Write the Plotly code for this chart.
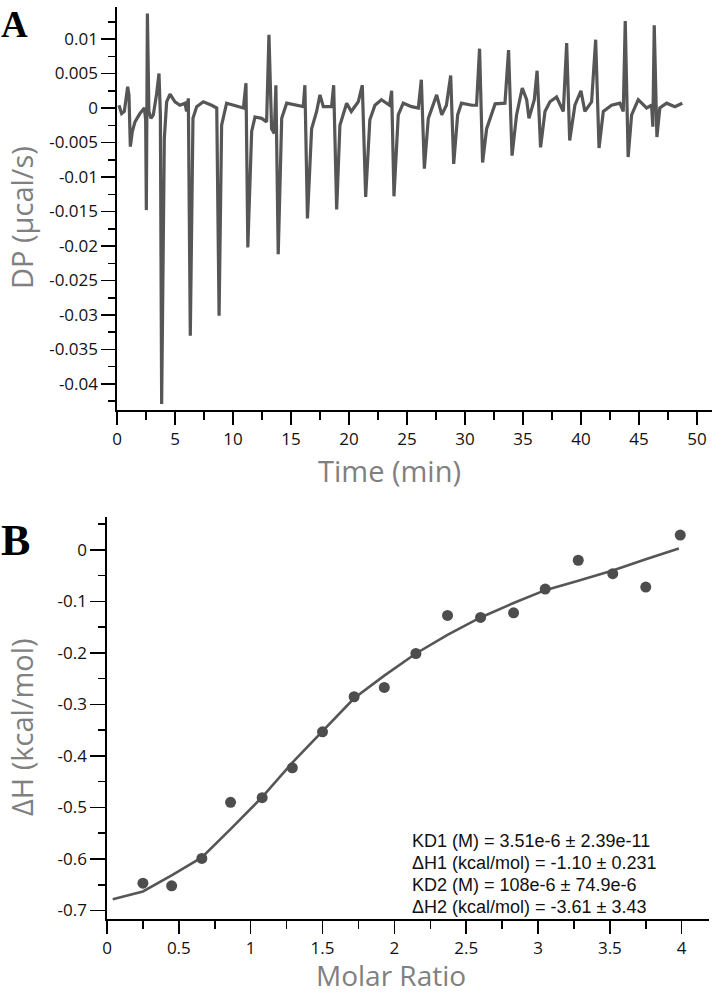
import plotly.graph_objects as go

# ---------------- Panel A: raw thermogram (DP vs time) ----------------
dp_time = [0.17, 0.40, 0.63, 0.92, 1.03, 1.15, 1.32, 1.55, 1.98, 2.36, 2.47, 2.53, 2.62, 2.75, 2.93,
           3.13, 3.42, 3.62, 3.74, 3.85, 4.08, 4.28, 4.57, 5.00, 5.43, 5.86, 6.00, 6.15, 6.32, 6.55,
           6.87, 7.44, 8.16, 8.60, 8.80, 9.02, 9.45, 10.17, 10.90, 11.12, 11.28, 11.61, 11.90, 12.47,
           12.90, 13.10, 13.33, 13.56, 13.70, 13.90, 14.20, 14.63, 15.34, 16.06, 16.20, 16.42, 16.78,
           17.21, 17.50, 17.79, 18.50, 18.68, 18.94, 19.22, 19.80, 20.20, 20.80, 21.15, 21.44, 21.80,
           22.24, 22.80, 23.50, 23.68, 23.88, 24.25, 24.68, 25.40, 25.98, 26.24, 26.50, 26.84, 27.56,
           28.00, 28.40, 28.77, 29.03, 29.37, 29.70, 30.60, 31.00, 31.26, 31.52, 31.87, 32.60, 33.45,
           33.76, 34.06, 34.45, 34.94, 35.32, 35.52, 35.98, 36.22, 36.52, 36.90, 37.33, 37.90, 38.48,
           38.77, 39.03, 39.48, 40.00, 40.34, 40.92, 41.27, 41.56, 41.93, 42.64, 43.36, 43.65, 43.82,
           44.07, 44.37, 44.94, 45.66, 46.09, 46.20, 46.32, 46.55, 46.80, 47.39, 48.10, 48.74]
dp_value = [0.0004, -0.0008, -0.0005, 0.0031, 0.0019, -0.0056, -0.0034, -0.0020, -0.0008, 0.0000,
            -0.0017, -0.0148, 0.0137, -0.0005, -0.0015, -0.0010, 0.0021, 0.0050, -0.0010, -0.0429,
            -0.0044, 0.0009, 0.0020, 0.0009, 0.0004, 0.0007, -0.0005, 0.0014, -0.0330, -0.0015,
            0.0002, 0.0009, 0.0004, 0.0000, -0.0301, -0.0025, 0.0007, 0.0004, 0.0000, 0.0036,
            -0.0202, -0.0034, -0.0013, -0.0015, -0.0020, 0.0106, -0.0030, -0.0037, 0.0033, -0.0212,
            -0.0015, 0.0007, 0.0004, 0.0002, 0.0033, -0.0160, -0.0030, -0.0005, 0.0019, 0.0002,
            0.0002, 0.0033, -0.0147, -0.0025, 0.0007, -0.0005, 0.0009, 0.0033, -0.0129, -0.0017,
            0.0004, 0.0012, 0.0004, 0.0025, -0.0128, -0.0010, 0.0007, 0.0002, 0.0000, 0.0041,
            -0.0088, -0.0015, 0.0019, -0.0010, 0.0004, 0.0047, -0.0081, -0.0010, 0.0007, 0.0004,
            0.0004, 0.0086, -0.0079, -0.0030, 0.0006, 0.0007, 0.0084, -0.0069, -0.0010, 0.0029,
            0.0012, -0.0015, 0.0012, 0.0054, -0.0057, -0.0005, 0.0009, 0.0016, -0.0005, 0.0094,
            -0.0047, 0.0004, 0.0025, -0.0005, 0.0009, 0.0099, -0.0058, -0.0005, 0.0004, 0.0007,
            -0.0005, 0.0126, -0.0071, -0.0010, 0.0012, 0.0000, 0.0004, -0.0027, 0.0120, -0.0042,
            0.0000, 0.0007, 0.0002, 0.0007]

time_ticks = [0, 5, 10, 15, 20, 25, 30, 35, 40, 45, 50]
time_ticktext = ["0", "5", "10", "15", "20", "25", "30", "35", "40", "45", "50"]
time_minor = [2.5, 7.5, 12.5, 17.5, 22.5, 27.5, 32.5, 37.5, 42.5, 47.5]
dp_ticks = [0.01, 0.005, 0, -0.005, -0.01, -0.015, -0.02, -0.025, -0.03, -0.035, -0.04]
dp_ticktext = ["0.01", "0.005", "0", "-0.005", "-0.01", "-0.015", "-0.02", "-0.025", "-0.03", "-0.035", "-0.04"]
dp_minor = [0.0125, 0.0075, 0.0025, -0.0025, -0.0075, -0.0125, -0.0175, -0.0225, -0.0275,
            -0.0325, -0.0375, -0.0425]

# ---------------- Panel B: integrated heats ----------------
molar_ratio = [0.25, 0.45, 0.66, 0.86, 1.08, 1.29, 1.50, 1.72, 1.93, 2.15, 2.37, 2.60, 2.83,
               3.05, 3.28, 3.52, 3.75, 3.99]
delta_h = [-0.647, -0.652, -0.599, -0.490, -0.481, -0.423, -0.353, -0.285, -0.267, -0.201,
           -0.127, -0.131, -0.122, -0.076, -0.020, -0.046, -0.072, 0.029]
fit_x = [0.04, 0.25, 0.45, 0.66, 0.86, 1.08, 1.29, 1.50, 1.72, 1.93, 2.15, 2.37, 2.60, 2.83,
         3.05, 3.28, 3.52, 3.75, 3.98]
fit_y = [-0.678, -0.663, -0.632, -0.597, -0.542, -0.480, -0.413, -0.352, -0.288, -0.244,
         -0.201, -0.165, -0.131, -0.103, -0.078, -0.060, -0.040, -0.018, 0.003]

mr_ticks = [0, 0.5, 1, 1.5, 2, 2.5, 3, 3.5, 4]
mr_ticktext = ["0", "0.5", "1", "1.5", "2", "2.5", "3", "3.5", "4"]
mr_minor = [0.25, 0.75, 1.25, 1.75, 2.25, 2.75, 3.25, 3.75]
dh_ticks = [0, -0.1, -0.2, -0.3, -0.4, -0.5, -0.6, -0.7]
dh_ticktext = ["0", "-0.1", "-0.2", "-0.3", "-0.4", "-0.5", "-0.6", "-0.7"]
dh_minor = [0.05, -0.05, -0.15, -0.25, -0.35, -0.45, -0.55, -0.65]

fit_params = ["KD1 (M) = 3.51e-6 ± 2.39e-11",
              "ΔH1 (kcal/mol) = -1.10 ± 0.231",
              "KD2 (M) = 108e-6 ± 74.9e-6",
              "ΔH2 (kcal/mol) = -3.61 ± 3.43"]

# ---------------- figure ----------------
W, H = 712, 994
TRACE = "#565656"
TICKFONT = dict(family="Open Sans", size=17, color="#111111")
TITLEFONT = dict(family="Open Sans", size=29, color="#808080")

fig = go.Figure()
fig.add_trace(go.Scatter(x=dp_time, y=dp_value, mode="lines",
                         line=dict(color=TRACE, width=3.2), xaxis="x", yaxis="y",
                         showlegend=False, hoverinfo="skip"))
fig.add_trace(go.Scatter(x=fit_x, y=fit_y, mode="lines",
                         line=dict(color=TRACE, width=2.6), xaxis="x2", yaxis="y2",
                         showlegend=False))
fig.add_trace(go.Scatter(x=molar_ratio, y=delta_h, mode="markers",
                         marker=dict(color="#4d4d4d", size=11), xaxis="x2", yaxis="y2",
                         showlegend=False))


def px_x(p):
    return p / W


def px_y(p):
    return 1 - p / H


axis_common = dict(showline=True, linecolor="black", linewidth=1.6, ticks="outside",
                   tickcolor="black", tickwidth=1.5, showgrid=False, zeroline=False,
                   automargin=False, tickmode="array", tickfont=TICKFONT, fixedrange=True)

fig.update_layout(
    template="none",
    width=W, height=H, margin=dict(l=0, r=0, t=0, b=0, autoexpand=False),
    paper_bgcolor="white", plot_bgcolor="white", showlegend=False,
    xaxis=dict(axis_common, domain=[px_x(117), 1.0], range=[0, 51.3], anchor="y",
               tickvals=time_ticks, ticktext=time_ticktext, ticklen=13,
               minor=dict(tickvals=time_minor, ticklen=8, ticks="outside",
                          tickcolor="black", tickwidth=1.5)),
    yaxis=dict(axis_common, domain=[px_y(410), px_y(7)], range=[-0.04377, 0.01464], anchor="x",
               tickvals=dp_ticks, ticktext=dp_ticktext, ticklen=14,
               minor=dict(tickvals=dp_minor, ticklen=7, ticks="outside",
                          tickcolor="black", tickwidth=1.5)),
    xaxis2=dict(axis_common, domain=[px_x(107), px_x(709)], range=[0, 4.19], anchor="y2",
                tickvals=mr_ticks, ticktext=mr_ticktext, ticklen=13,
                minor=dict(tickvals=mr_minor, ticklen=8, ticks="outside",
                           tickcolor="black", tickwidth=1.5)),
    yaxis2=dict(axis_common, domain=[px_y(919), px_y(517)], range=[-0.7165, 0.064], anchor="x2",
                tickvals=dh_ticks, ticktext=dh_ticktext, ticklen=15,
                minor=dict(tickvals=dh_minor, ticklen=7, ticks="outside",
                           tickcolor="black", tickwidth=1.5)),
)

ann = []
# panel letters
ann.append(dict(text="<b>A</b>", x=px_x(-1), y=px_y(2), xref="paper", yref="paper",
                xanchor="left", yanchor="top", showarrow=False,
                font=dict(family="Liberation Serif", size=37, color="black")))
ann.append(dict(text="<b>B</b>", x=px_x(-1), y=px_y(514), xref="paper", yref="paper",
                xanchor="left", yanchor="top", showarrow=False,
                font=dict(family="Liberation Serif", size=44, color="black")))
# axis titles
ann.append(dict(text="Time (min)", x=px_x(390), y=px_y(470), xref="paper", yref="paper",
                xanchor="center", yanchor="middle", showarrow=False, font=TITLEFONT))
ann.append(dict(text="DP (µcal/s)", x=px_x(21), y=px_y(218), xref="paper", yref="paper",
                xanchor="center", yanchor="middle", textangle=-90, showarrow=False, font=TITLEFONT))
ann.append(dict(text="Molar Ratio", x=px_x(391), y=px_y(975), xref="paper", yref="paper",
                xanchor="center", yanchor="middle", showarrow=False,
                font=dict(TITLEFONT, size=28)))
ann.append(dict(text="ΔH (kcal/mol)", x=px_x(21), y=px_y(727), xref="paper", yref="paper",
                xanchor="center", yanchor="middle", textangle=-90, showarrow=False, font=TITLEFONT))
# fit parameters
for i, line in enumerate(fit_params):
    ann.append(dict(text=line, x=px_x(410), y=px_y(841 + 22 * i), xref="paper", yref="paper",
                    xanchor="left", yanchor="middle", showarrow=False,
                    font=dict(family="Liberation Sans", size=18, color="#111111")))
fig.update_layout(annotations=ann)

fig.write_html("out.html", config={"displayModeBar": False, "staticPlot": True},
               post_script="document.body.style.margin='0';document.body.style.padding='0';"
                           "document.body.style.overflow='hidden';")
